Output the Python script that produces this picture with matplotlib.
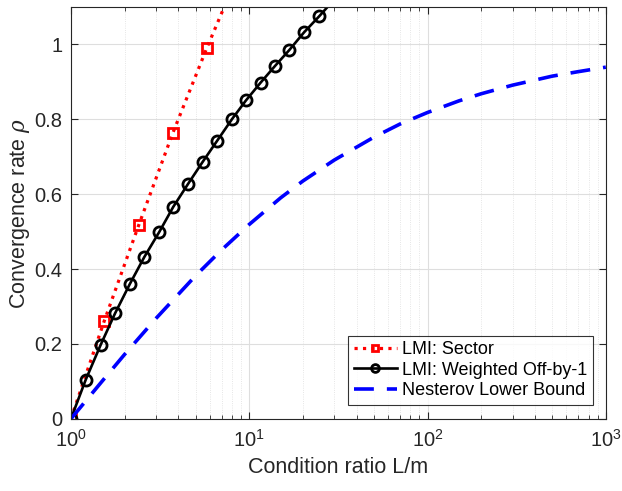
import matplotlib.pyplot as plt
from matplotlib.ticker import LogLocator, NullFormatter

# values
sector_k = [1.0, 1.54, 2.40, 3.72, 5.77, 8.9]
sector_rho = [0.0, 0.262, 0.517, 0.762, 0.989, 1.2]

offby1_k = [1.0, 1.21, 1.47, 1.77, 2.14, 2.58, 3.13, 3.75, 4.55, 5.48, 6.62,
            8.0, 9.58, 11.6, 14.0, 16.8, 20.3, 24.7, 30.0]
offby1_rho = [0.0, 0.104, 0.198, 0.282, 0.360, 0.432, 0.499, 0.566, 0.628, 0.686,
              0.743, 0.800, 0.850, 0.898, 0.943, 0.985, 1.032, 1.075, 1.12]

nesterov_k = [1, 1.5, 2, 3, 5, 7, 10, 15, 20, 30, 50, 70, 100, 150, 200,
              300, 500, 700, 1000]
nesterov_rho = [0.0, 0.101, 0.172, 0.268, 0.382, 0.451, 0.519, 0.590, 0.635, 0.691,
                0.752, 0.787, 0.818, 0.849, 0.868, 0.891, 0.915, 0.927, 0.939]

plt.rcParams.update({
    "font.family": "Liberation Sans",
    "font.size": 14.5,
    "mathtext.fontset": "dejavuserif",
})

fig = plt.figure(figsize=(6.22, 4.91), dpi=100)
ax = fig.add_axes([0.114, 0.147, 0.860, 0.839])

ax.plot(sector_k, sector_rho, ':', color='#ff0000', lw=2.3, marker='s', ms=7,
        mfc='none', mec='#ff0000', mew=2, label='LMI: Sector')
ax.plot(offby1_k, offby1_rho, '-', color='black', lw=1.9, marker='o', ms=8,
        mfc='none', mew=2, label='LMI: Weighted Off-by-1')
ax.plot(nesterov_k, nesterov_rho, color='#0000ff', lw=2.6, dashes=(5.5, 3.6),
        label='Nesterov Lower Bound')

ax.set_xscale('log')
ax.set_xlim(1, 1000)
ax.set_ylim(0, 1.1)
ax.set_yticks([0, 0.2, 0.4, 0.6, 0.8, 1])
ax.set_yticklabels(['0', '0.2', '0.4', '0.6', '0.8', '1'])
ax.xaxis.set_minor_locator(LogLocator(base=10, subs=range(2, 10)))
ax.xaxis.set_minor_formatter(NullFormatter())

ax.grid(True, which='major', color='#dedede', lw=0.8)
ax.grid(True, which='minor', axis='x', color='#dedede', lw=0.6, ls=':')
ax.set_axisbelow(True)
ax.tick_params(which='both', direction='in', top=True, right=True, colors='#262626')
ax.tick_params(which='major', length=5)
ax.tick_params(which='minor', length=3)
ax.tick_params(axis='x', pad=7)
ax.tick_params(axis='y', pad=6)
for s in ax.spines.values():
    s.set_color('#262626')

ax.set_xlabel('Condition ratio L/m', color='#262626', fontsize=15.5, labelpad=5)
ax.set_ylabel(r'Convergence rate $\rho$', color='#262626', fontsize=15.5, labelpad=2)

leg = ax.legend(loc='lower right', bbox_to_anchor=(0.976, 0.034), borderaxespad=0,
                fancybox=False, edgecolor='black', fontsize=13, handlelength=2.4,
                handletextpad=0.3, labelspacing=0.2, borderpad=0.3, markerscale=0.7)
leg.get_frame().set_linewidth(0.8)

fig.savefig('out.png', dpi=100)
